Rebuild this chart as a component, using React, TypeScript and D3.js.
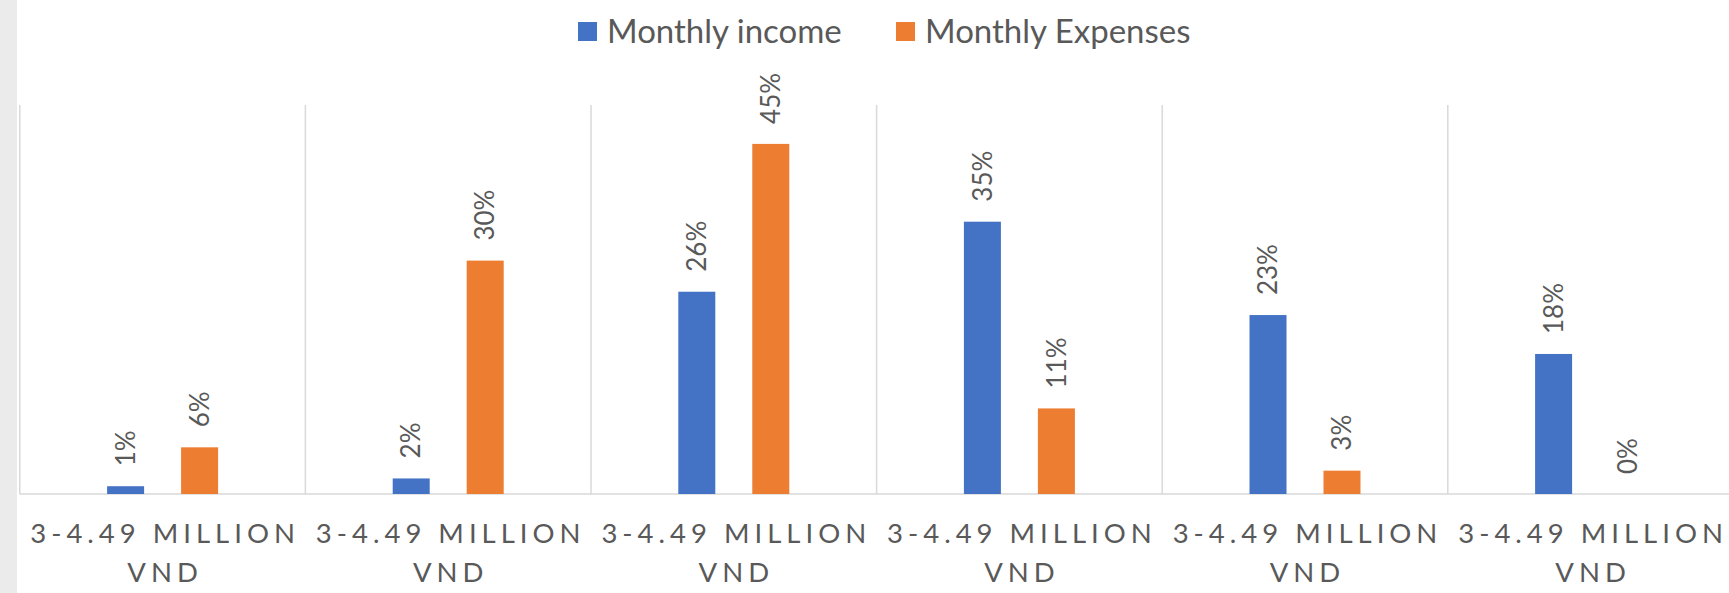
import React, { useEffect, useRef } from 'react';
import * as d3 from 'd3';

const categories = [
  '3-4.49 MILLION VND',
  '3-4.49 MILLION VND',
  '3-4.49 MILLION VND',
  '3-4.49 MILLION VND',
  '3-4.49 MILLION VND',
  '3-4.49 MILLION VND',
];
const seriesNames = ['Monthly income', 'Monthly Expenses'];
const incomeValues = [1, 2, 26, 35, 23, 18];
const expenseValues = [6, 30, 45, 11, 3, 0];
const colors = ['#4472C4', '#ED7D31'];

const FONT = 'Lato, "Open Sans", sans-serif';

export default function App() {
  const ref = useRef<SVGSVGElement>(null);

  useEffect(() => {
    const W = 1729, H = 593;
    const svg = d3.select(ref.current);
    svg.selectAll('*').remove();

    svg.append('rect').attr('width', W).attr('height', H).attr('fill', '#fff');
    // grey strip at the left edge of the screenshot
    svg.append('rect').attr('width', 17).attr('height', H).attr('fill', '#ebebeb');

    const left = 19.8, top = 105, baseline = 494;
    const bandW = 285.6;

    const x = d3.scaleBand<number>()
      .domain(d3.range(categories.length))
      .range([left, left + bandW * categories.length])
      .padding(0);

    const xSub = d3.scaleBand<string>()
      .domain(seriesNames)
      .range([0, x.bandwidth()])
      .paddingInner(0.5)
      .paddingOuter(1.18);

    const y = d3.scaleLinear().domain([0, 50]).range([baseline, top]);

    // vertical grid lines at category boundaries
    svg.selectAll('.vgrid')
      .data(d3.range(categories.length + 1))
      .join('line')
      .attr('class', 'vgrid')
      .attr('x1', d => left + d * x.step())
      .attr('x2', d => left + d * x.step())
      .attr('y1', top)
      .attr('y2', baseline)
      .attr('stroke', '#d9d9d9')
      .attr('stroke-width', 1.5);

    // axis line
    svg.append('line')
      .attr('x1', left).attr('x2', W)
      .attr('y1', baseline).attr('y2', baseline)
      .attr('stroke', '#d9d9d9')
      .attr('stroke-width', 1.5);

    const data = categories.map((c, i) => [
      { cat: i, name: seriesNames[0], value: incomeValues[i], color: colors[0] },
      { cat: i, name: seriesNames[1], value: expenseValues[i], color: colors[1] },
    ]).flat();

    svg.selectAll('.bar')
      .data(data)
      .join('rect')
      .attr('class', 'bar')
      .attr('x', d => x(d.cat)! + xSub(d.name)!)
      .attr('y', d => y(d.value))
      .attr('width', xSub.bandwidth())
      .attr('height', d => baseline - y(d.value))
      .attr('fill', d => d.color);

    // rotated value labels
    svg.selectAll('.vlabel')
      .data(data)
      .join('text')
      .attr('class', 'vlabel')
      .attr('transform', d => {
        const cx = x(d.cat)! + xSub(d.name)! + xSub.bandwidth() / 2;
        return `translate(${cx}, ${y(d.value) - 20}) rotate(-90)`;
      })
      .attr('dy', '0.35em')
      .attr('text-anchor', 'start')
      .style('font-family', FONT)
      .style('font-size', '26px')
      .style('fill', '#595959')
      .text(d => `${d.value}%`);

    // category labels, two lines with wide letter spacing
    const lab = svg.selectAll('.clabel')
      .data(categories)
      .join('text')
      .attr('class', 'clabel')
      .attr('text-anchor', 'middle')
      .style('font-family', FONT)
      .style('font-size', '27.5px')
      .style('letter-spacing', '5px')
      .style('fill', '#595959');
    lab.append('tspan')
      .attr('x', (d, i) => x(i)! + x.bandwidth() / 2 + 2.5)
      .attr('y', 543)
      .text(d => d.split(' ').slice(0, 2).join(' '));
    lab.append('tspan')
      .attr('x', (d, i) => x(i)! + x.bandwidth() / 2 + 2.5)
      .attr('y', 582)
      .text(d => d.split(' ')[2]);

    // legend
    const legendX = [578, 896];
    const lg = svg.selectAll('.legend')
      .data(seriesNames)
      .join('g')
      .attr('class', 'legend')
      .attr('transform', (d, i) => `translate(${legendX[i]}, 0)`);
    lg.append('rect')
      .attr('x', 0).attr('y', 22)
      .attr('width', 19).attr('height', 19)
      .attr('fill', (d, i) => colors[i]);
    lg.append('text')
      .attr('x', 29).attr('y', 43)
      .style('font-family', FONT)
      .style('font-size', '33px')
      .style('fill', '#595959')
      .text(d => d);
  }, []);

  return (
    <svg ref={ref} width={1729} height={593}
      style={{ position: 'absolute', left: 0, top: 0, display: 'block' }} />
  );
}
